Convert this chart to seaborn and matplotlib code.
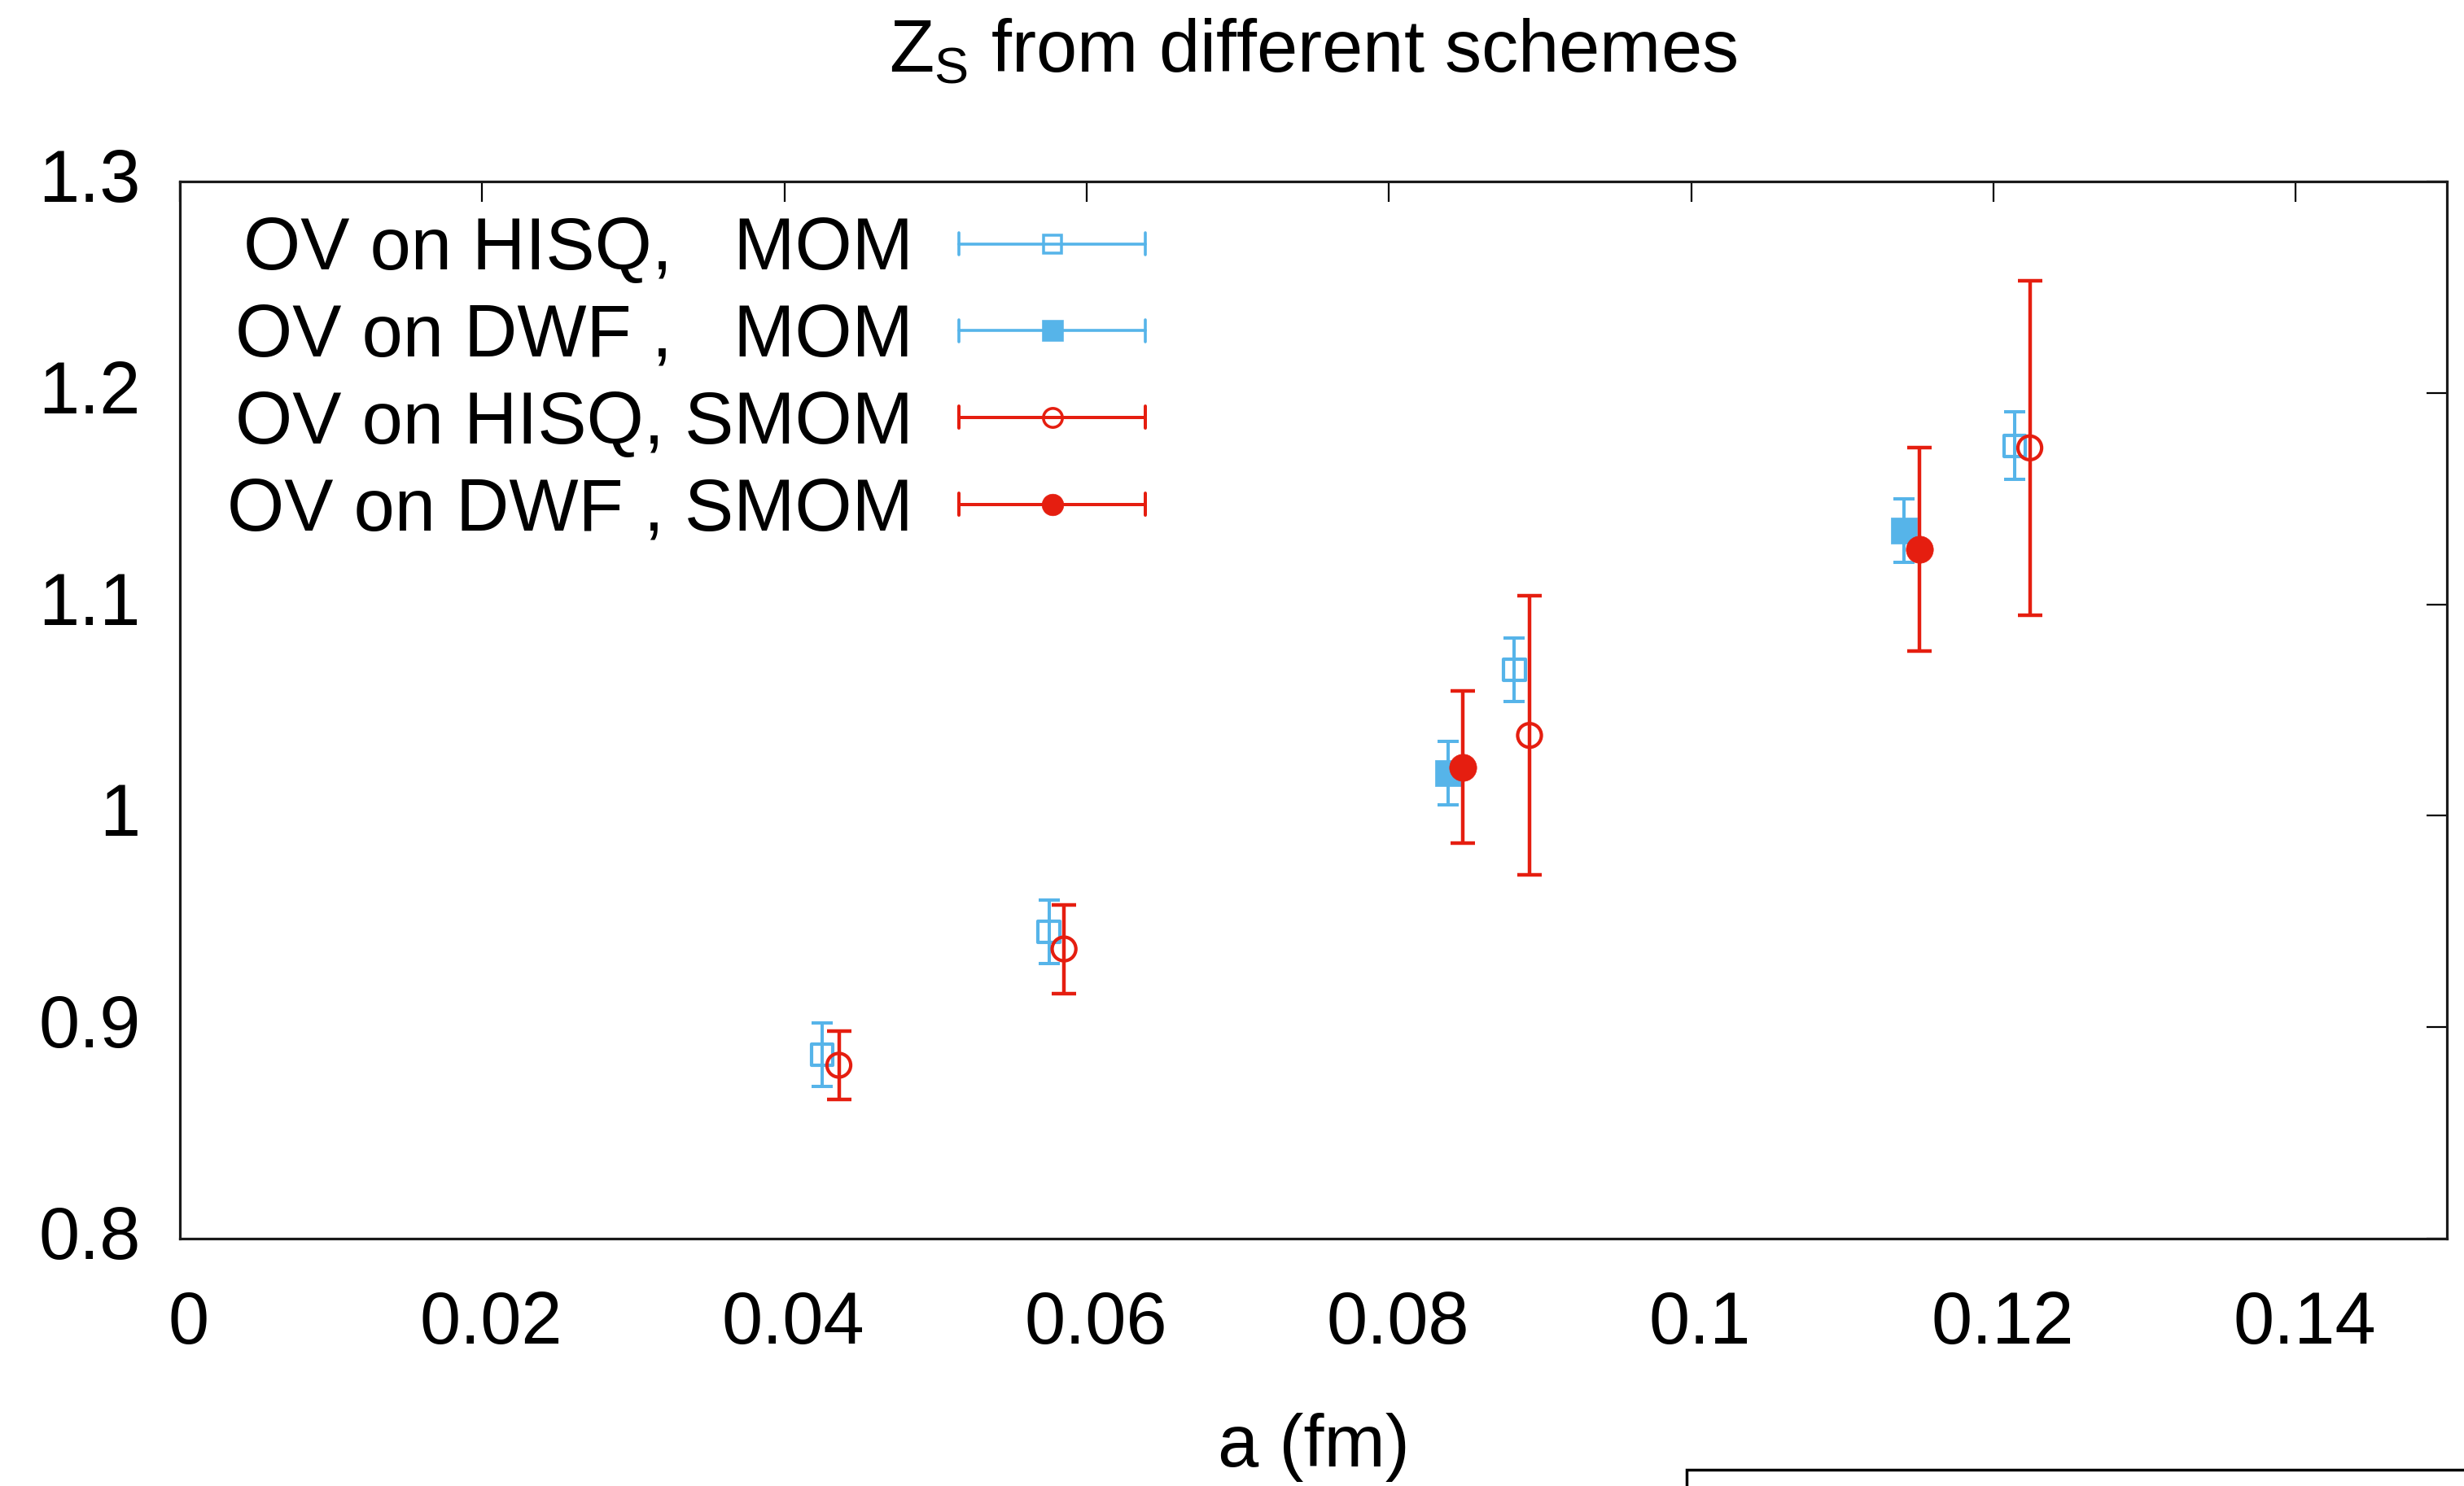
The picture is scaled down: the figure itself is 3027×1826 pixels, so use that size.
import numpy as np
import pandas as pd
import matplotlib
matplotlib.use("Agg")
import matplotlib.pyplot as plt
import seaborn as sns
from matplotlib.legend_handler import HandlerBase
from matplotlib.lines import Line2D
from matplotlib.patches import Rectangle
from matplotlib.transforms import ScaledTranslation

# ---------------- data ----------------
labels = ["OV on HISQ,   MOM", "OV on DWF ,   MOM", "OV on HISQ, SMOM", "OV on DWF , SMOM"]

hisq_mom_a = [0.0425, 0.0575, 0.0883, 0.1214]
hisq_mom_z = [0.887, 0.945, 1.069, 1.175]
hisq_mom_err = [0.015, 0.015, 0.015, 0.016]

dwf_mom_a = [0.0839, 0.1141]
dwf_mom_z = [1.020, 1.135]
dwf_mom_err = [0.015, 0.015]

hisq_smom_a = [0.0436, 0.0585, 0.0893, 0.1224]
hisq_smom_z = [0.882, 0.937, 1.038, 1.174]
hisq_smom_err = [0.016, 0.021, 0.066, 0.079]

dwf_smom_a = [0.0849, 0.1151]
dwf_smom_z = [1.023, 1.126]
dwf_smom_err = [0.036, 0.048]

x_ticks = [0, 0.02, 0.04, 0.06, 0.08, 0.1, 0.12, 0.14]
x_ticklabels = ["0", "0.02", "0.04", "0.06", "0.08", "0.1", "0.12", "0.14"]
y_ticks = [0.8, 0.9, 1.0, 1.1, 1.2, 1.3]
y_ticklabels = ["0.8", "0.9", "1", "1.1", "1.2", "1.3"]

title = r"$\mathregular{Z_S}$ from different schemes"
xlabel = "a (fm)"

BLUE = "#56b4e9"
RED = "#e51e10"

# ---------------- style ----------------
sns.set_style("white")
plt.rcParams["font.family"] = ["Liberation Sans", "DejaVu Sans"]
plt.rcParams["mathtext.fontset"] = "custom"
plt.rcParams["mathtext.rm"] = "Liberation Sans"
plt.rcParams["mathtext.it"] = "Liberation Sans:italic"
for k in ["text.color", "axes.labelcolor", "xtick.color", "ytick.color"]:
    plt.rcParams[k] = "black"
FS = 65

fig = plt.figure(figsize=(30.27, 18.26), dpi=100)
ax = fig.add_axes([0.07301, 0.16648, 0.92005, 0.7114])

# (a, z, err, colour, marker, facecolour, marker size, edge width, bar width, capsize)
series = [
    (hisq_mom_a, hisq_mom_z, hisq_mom_err, BLUE, "s", "none", 19, 3.0, 2.9, 9.5),
    (dwf_mom_a, dwf_mom_z, dwf_mom_err, BLUE, "s", BLUE, 23, 0.5, 2.9, 9.5),
    (hisq_smom_a, hisq_smom_z, hisq_smom_err, RED, "o", "none", 21, 3.0, 3.2, 10.8),
    (dwf_smom_a, dwf_smom_z, dwf_smom_err, RED, "o", RED, 24, 0.5, 3.2, 10.8),
]

frames = []
for lab, s in zip(labels, series):
    frames.append(pd.DataFrame({"a": s[0], "z": s[1], "err": s[2], "scheme": lab}))
df = pd.concat(frames, ignore_index=True)

handles = []
for i, (lab, (a, z, e, c, m, fc, ms, mew, elw, cs)) in enumerate(zip(labels, series)):
    sub = df[df["scheme"] == lab]
    ax.errorbar(sub["a"], sub["z"], yerr=sub["err"], fmt="none", ecolor=c,
                elinewidth=elw, capsize=cs, capthick=elw, zorder=2 + i)
    sns.scatterplot(data=sub, x="a", y="z", marker=m, s=ms ** 2,
                    facecolor=fc, edgecolor=c, linewidth=mew, ax=ax,
                    zorder=3 + i, legend=False)
    handles.append(Line2D([], [], color=c, lw=elw * 0.9, marker=m,
                          markerfacecolor=fc, markeredgecolor=c,
                          markersize=ms * 0.8, markeredgewidth=mew * 0.85))


class KeyHandler(HandlerBase):
    def create_artists(self, legend, orig_handle, xdescent, ydescent,
                       width, height, fontsize, trans):
        c = orig_handle.get_color()
        lw = orig_handle.get_linewidth()
        y = height / 2 - ydescent
        x0 = -xdescent
        x1 = x0 + width
        cap = 0.15 * fontsize
        arts = [
            Line2D([x0, x1], [y, y], color=c, lw=lw),
            Line2D([x0, x0], [y - cap, y + cap], color=c, lw=lw),
            Line2D([x1, x1], [y - cap, y + cap], color=c, lw=lw),
            Line2D([(x0 + x1) / 2], [y], ls="none",
                   marker=orig_handle.get_marker(),
                   markersize=orig_handle.get_markersize(),
                   markerfacecolor=orig_handle.get_markerfacecolor(),
                   markeredgecolor=c,
                   markeredgewidth=orig_handle.get_markeredgewidth()),
        ]
        for art in arts:
            art.set_transform(trans)
        return arts


leg = ax.legend(handles, labels, handler_map={Line2D: KeyHandler()},
                loc="upper right", bbox_to_anchor=(0.426, 0.9675),
                frameon=False, fontsize=FS, markerfirst=False,
                handlelength=2.54, handletextpad=0.62, labelspacing=0.24,
                borderpad=0, borderaxespad=0)

ax.set_xlim(0, 0.15)
ax.set_ylim(0.8, 1.3)
ax.set_xticks(x_ticks)
ax.set_xticklabels(x_ticklabels)
ax.set_yticks(y_ticks)
ax.set_yticklabels(y_ticklabels)
ax.set_xlabel(xlabel, fontsize=FS, labelpad=48)
ax.set_ylabel("")
ax.set_title(title, fontsize=FS, pad=97)

ax.tick_params(direction="in", length=18, width=1.6, top=True, right=True,
               labelsize=FS, colors="black")
ax.tick_params(axis="x", pad=45)
ax.tick_params(axis="y", pad=37)
for sp in ax.spines.values():
    sp.set_linewidth(2.3)
    sp.set_color("#1a1a1a")

# small offsets of the tick labels as in the reference rendering
xoff = ScaledTranslation(11 / 100, 0, fig.dpi_scale_trans)
for lbl in ax.get_xticklabels():
    lbl.set_transform(lbl.get_transform() + xoff)
yoff = ScaledTranslation(3 / 100, 8 / 100, fig.dpi_scale_trans)
for lbl in ax.get_yticklabels():
    lbl.set_transform(lbl.get_transform() + yoff)

fig.add_artist(Rectangle((2072 / 3027, -0.05), 0.4, 0.05 + 20 / 1826,
                         transform=fig.transFigure, fill=False,
                         lw=2.5, ec="black", clip_on=False))

fig.savefig("out.png", dpi=100, facecolor="white")
